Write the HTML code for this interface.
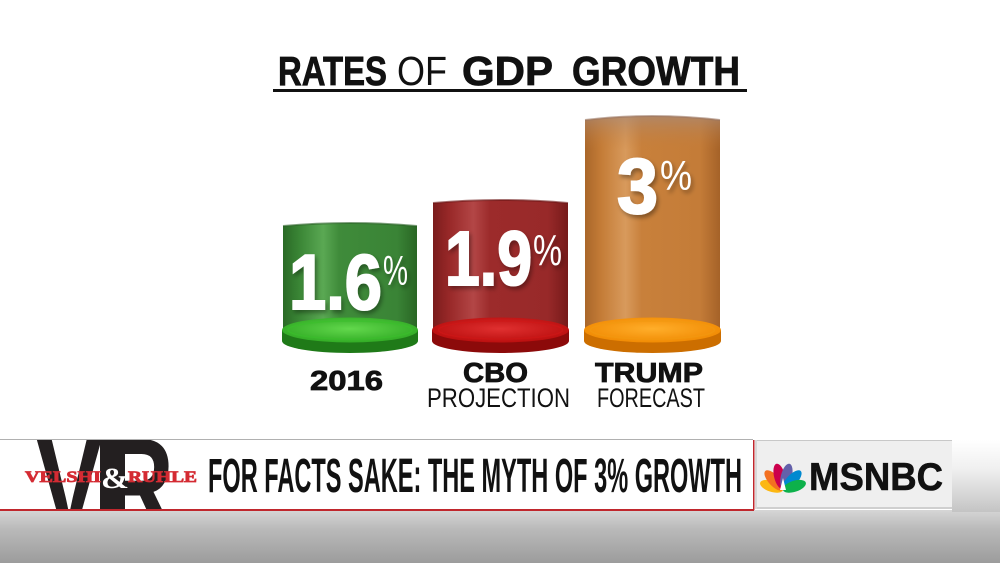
<!DOCTYPE html>
<html><head><meta charset="utf-8"><style>
html,body{margin:0;padding:0;background:#fff;}
svg{display:block;}
text{font-family:"Liberation Sans",sans-serif;}
</style></head><body>
<svg width="1000" height="563" viewBox="0 0 1000 563" xmlns="http://www.w3.org/2000/svg">
<defs>
  <linearGradient id="gG" x1="0" x2="1" y1="0" y2="0">
    <stop offset="0" stop-color="#2a6a26"/><stop offset="0.12" stop-color="#3a8535"/>
    <stop offset="0.3" stop-color="#5aa853"/><stop offset="0.42" stop-color="#3f8b3a"/>
    <stop offset="0.85" stop-color="#3a8436"/><stop offset="1" stop-color="#296624"/>
  </linearGradient>
  <linearGradient id="gR" x1="0" x2="1" y1="0" y2="0">
    <stop offset="0" stop-color="#7a1c1c"/><stop offset="0.12" stop-color="#982828"/>
    <stop offset="0.3" stop-color="#b34646"/><stop offset="0.42" stop-color="#9c2b2b"/>
    <stop offset="0.85" stop-color="#982929"/><stop offset="1" stop-color="#761a1a"/>
  </linearGradient>
  <linearGradient id="gO" x1="0" x2="1" y1="0" y2="0">
    <stop offset="0" stop-color="#a9662a"/><stop offset="0.12" stop-color="#c47c37"/>
    <stop offset="0.3" stop-color="#d89a5c"/><stop offset="0.42" stop-color="#c8803b"/>
    <stop offset="0.85" stop-color="#c47c38"/><stop offset="1" stop-color="#a56228"/>
  </linearGradient>
  <linearGradient id="gOtop" x1="0" x2="0" y1="0" y2="1">
    <stop offset="0" stop-color="#a88a78" stop-opacity="0.7"/><stop offset="1" stop-color="#c47c38" stop-opacity="0"/>
  </linearGradient>
  <radialGradient id="dG" cx="0.5" cy="0.45" r="0.6">
    <stop offset="0" stop-color="#62d84c"/><stop offset="1" stop-color="#2ea822"/>
  </radialGradient>
  <radialGradient id="dR" cx="0.5" cy="0.45" r="0.6">
    <stop offset="0" stop-color="#e03030"/><stop offset="1" stop-color="#b80c0c"/>
  </radialGradient>
  <radialGradient id="dO" cx="0.5" cy="0.45" r="0.6">
    <stop offset="0" stop-color="#ffae2a"/><stop offset="1" stop-color="#f08800"/>
  </radialGradient>
  <linearGradient id="bottomBg" x1="0" x2="0" y1="0" y2="1">
    <stop offset="0" stop-color="#d6d6d6"/><stop offset="0.35" stop-color="#bababa"/><stop offset="1" stop-color="#9c9c9c"/>
  </linearGradient>
  <linearGradient id="rightBg" x1="0" x2="0" y1="0" y2="1">
    <stop offset="0" stop-color="#ffffff"/><stop offset="0.4" stop-color="#f0f0f0"/><stop offset="1" stop-color="#c4c4c4"/>
  </linearGradient>
  <clipPath id="barClip"><rect x="0" y="440" width="753" height="69"/></clipPath>
  <filter id="sh" x="-10%" y="-10%" width="130%" height="130%">
    <feDropShadow dx="2" dy="3" stdDeviation="2" flood-color="#000" flood-opacity="0.35"/>
  </filter>
</defs>

<rect width="1000" height="563" fill="#fff"/>

<!-- Title -->
<g fill="#111">
<text x="278" y="85" font-size="41" font-weight="bold" textLength="109" lengthAdjust="spacingAndGlyphs" stroke="#111" stroke-width="0.8">RATES</text>
<text x="397" y="85" font-size="41" textLength="50" lengthAdjust="spacingAndGlyphs">OF</text>
<text x="462" y="85" font-size="41" font-weight="bold" textLength="91" lengthAdjust="spacingAndGlyphs" stroke="#111" stroke-width="0.8">GDP</text>
<text x="572" y="85" font-size="41" font-weight="bold" textLength="168" lengthAdjust="spacingAndGlyphs" stroke="#111" stroke-width="0.8">GROWTH</text>
</g>
<rect x="273" y="89" width="474" height="3" fill="#111"/>

<!-- Green cylinder -->
<path d="M283,226 Q350,220 417,226 L417,336 L283,336 Z" fill="url(#gG)"/>
<path d="M283,226 Q350,220 417,226" stroke="#2a6026" stroke-width="2" fill="none" opacity="0.6"/>
<path d="M282,330 L282,341 A68,12 0 0 0 418,341 L418,330 Z" fill="#1f7a18"/>
<ellipse cx="350" cy="330" rx="68" ry="12.5" fill="url(#dG)"/>
<ellipse cx="350" cy="330" rx="62" ry="9" fill="none" stroke="#3bbf2c" stroke-width="1.5" opacity="0.6"/>

<!-- Red cylinder -->
<path d="M433,203 Q500,197 568,203 L568,336 L433,336 Z" fill="url(#gR)"/>
<path d="M433,203 Q500,197 568,203" stroke="#6a1616" stroke-width="2" fill="none" opacity="0.6"/>
<path d="M432,330 L432,341 A68.5,12 0 0 0 569,341 L569,330 Z" fill="#8c0a0a"/>
<ellipse cx="500.5" cy="330" rx="68.5" ry="12.5" fill="url(#dR)"/>
<ellipse cx="500.5" cy="330" rx="62" ry="9" fill="none" stroke="#d01818" stroke-width="1.5" opacity="0.6"/>

<!-- Orange cylinder -->
<path d="M585,120 Q652,112 720,120 L720,336 L585,336 Z" fill="url(#gO)"/>
<path d="M585,120 Q652,112 720,120 L720,150 L585,150 Z" fill="url(#gOtop)"/>
<path d="M585,120 Q652,112 720,120" stroke="#9a7560" stroke-width="2" fill="none" opacity="0.6"/>
<path d="M584,330 L584,341 A68.5,12 0 0 0 721,341 L721,330 Z" fill="#cc6e00"/>
<ellipse cx="652.5" cy="330" rx="68.5" ry="12.5" fill="url(#dO)"/>
<ellipse cx="652.5" cy="330" rx="62" ry="9" fill="none" stroke="#f29a10" stroke-width="1.5" opacity="0.6"/>

<!-- Values -->
<g fill="#fff" filter="url(#sh)">
<text x="289" y="309" font-size="78" font-weight="bold" textLength="93" lengthAdjust="spacingAndGlyphs" stroke="#fff" stroke-width="2">1.6</text>
<text x="383" y="285" font-size="42" textLength="25" lengthAdjust="spacingAndGlyphs">%</text>
<text x="445" y="285" font-size="77" font-weight="bold" textLength="87" lengthAdjust="spacingAndGlyphs" stroke="#fff" stroke-width="2">1.9</text>
<text x="533" y="265" font-size="44" textLength="29" lengthAdjust="spacingAndGlyphs">%</text>
<text x="617" y="213" font-size="78" font-weight="bold" textLength="41" lengthAdjust="spacingAndGlyphs" stroke="#fff" stroke-width="2">3</text>
<text x="660" y="190" font-size="42" textLength="32" lengthAdjust="spacingAndGlyphs">%</text>
</g>

<!-- Labels -->
<g fill="#111">
<text x="310" y="390" font-size="28" font-weight="bold" textLength="73" lengthAdjust="spacingAndGlyphs" stroke="#111" stroke-width="0.8">2016</text>
<text x="463" y="382" font-size="28" font-weight="bold" textLength="65" lengthAdjust="spacingAndGlyphs" stroke="#111" stroke-width="0.8">CBO</text>
<text x="427" y="407" font-size="27" textLength="143" lengthAdjust="spacingAndGlyphs">PROJECTION</text>
<text x="595" y="382" font-size="28" font-weight="bold" textLength="108" lengthAdjust="spacingAndGlyphs" stroke="#111" stroke-width="0.8">TRUMP</text>
<text x="597" y="407" font-size="27" textLength="108" lengthAdjust="spacingAndGlyphs">FORECAST</text>
</g>

<!-- Lower third backgrounds -->
<rect x="0" y="510" width="1000" height="53" fill="url(#bottomBg)"/>
<rect x="952" y="440" width="48" height="72" fill="url(#rightBg)"/>
<rect x="0" y="439" width="753" height="72" fill="#fff"/>
<rect x="0" y="439" width="753" height="1" fill="#b0b0b0"/>

<!-- VR logo -->
<g clip-path="url(#barClip)">
<text x="36" y="530" font-size="132" font-weight="bold" textLength="138" lengthAdjust="spacingAndGlyphs" fill="#231f20">VR</text>
<rect x="100" y="440" width="25" height="70" fill="#231f20"/>
</g>
<text x="25" y="482" font-size="16" font-weight="bold" textLength="76" lengthAdjust="spacingAndGlyphs" fill="#d42b33" stroke="#d42b33" stroke-width="0.8" style="font-family:'Liberation Serif',serif">VELSHI</text>
<text x="101" y="488" font-size="30" font-weight="bold" textLength="28" lengthAdjust="spacingAndGlyphs" fill="#fff" style="font-family:'Liberation Serif',serif">&amp;</text>
<text x="128" y="482" font-size="16" font-weight="bold" textLength="69" lengthAdjust="spacingAndGlyphs" fill="#d42b33" stroke="#d42b33" stroke-width="0.8" style="font-family:'Liberation Serif',serif">RUHLE</text>

<!-- Headline -->
<text x="208" y="492" font-size="48" font-weight="bold" textLength="534" lengthAdjust="spacingAndGlyphs" fill="#111">FOR FACTS SAKE: THE MYTH OF 3% GROWTH</text>

<!-- Red lines -->
<rect x="0" y="509" width="754" height="2" fill="#c0272d"/>
<rect x="753" y="440" width="1.5" height="70" fill="#c0272d"/>

<!-- MSNBC box -->
<rect x="755" y="440" width="3" height="69" fill="#d8d8d8"/>
<rect x="757" y="440" width="195" height="68" fill="#efefef"/>
<rect x="757" y="440" width="195" height="1" fill="#c8c8c8"/>
<rect x="757" y="507" width="195" height="2" fill="#cfcfcf"/>

<!-- Peacock -->
<g transform="translate(783,490)">
  <ellipse cx="0" cy="-12" rx="5.5" ry="12" fill="#fcb711" transform="rotate(-72)"/>
  <ellipse cx="0" cy="-13" rx="5.5" ry="13" fill="#f37021" transform="rotate(-43)"/>
  <ellipse cx="0" cy="-14" rx="5.5" ry="13" fill="#cc004c" transform="rotate(-14)"/>
  <ellipse cx="0" cy="-14" rx="5.5" ry="13" fill="#6460aa" transform="rotate(14)"/>
  <ellipse cx="0" cy="-13" rx="5.5" ry="13" fill="#0089d0" transform="rotate(43)"/>
  <ellipse cx="0" cy="-12" rx="5.5" ry="12" fill="#0db14b" transform="rotate(72)"/>
  <path d="M-3,0 L0,-12 L3,0 Z" fill="#fff"/>
</g>
<text x="809" y="490" font-size="39" font-weight="bold" textLength="134" lengthAdjust="spacingAndGlyphs" fill="#111" stroke="#111" stroke-width="0.6">MSNBC</text>
</svg>
</body></html>
